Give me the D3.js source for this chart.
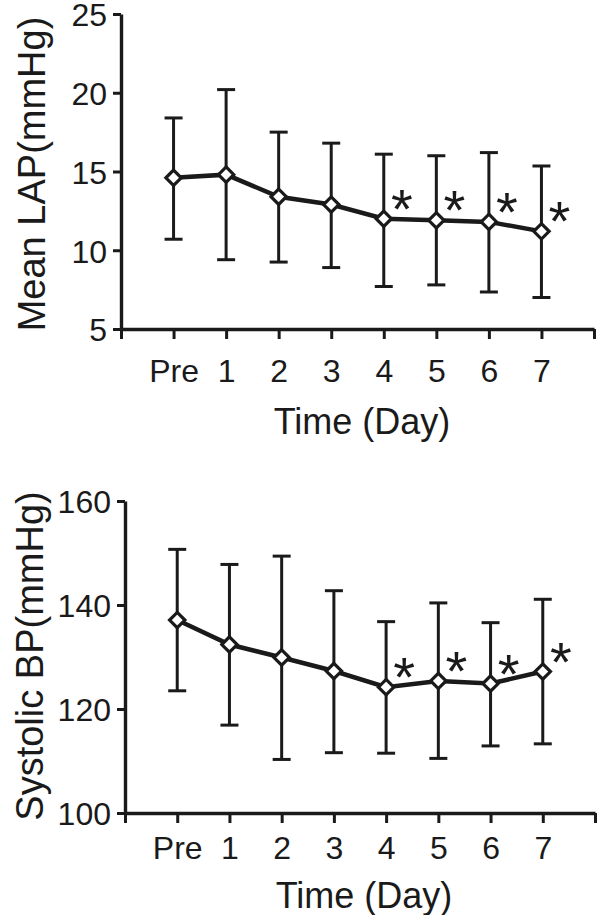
<!DOCTYPE html>
<html><head><meta charset="utf-8">
<script src="https://cdn.jsdelivr.net/npm/d3@7"></script>
<style>
body{margin:0;background:#fff;}
svg{display:block;}
text{font-family:Arial,"Liberation Sans",sans-serif;fill:#1a1a1a;}
</style></head>
<body>
<div id="chart"></div>
<script>
const categories = ["Pre","1","2","3","4","5","6","7"];
const lapMean  = [14.6,14.8,13.4,12.9,12.0,11.9,11.8,11.2];
const lapUpper = [18.4,20.2,17.5,16.8,16.1,16.0,16.2,15.35];
const lapLower = [10.7,9.4,9.25,8.9,7.7,7.8,7.35,7.0];
const lapSig   = [false,false,false,false,true,true,true,true];
const lapTicks = [5,10,15,20,25];

const bpMean  = [137.1,132.4,129.9,127.3,124.2,125.4,124.9,127.2];
const bpUpper = [150.7,147.8,149.4,142.75,136.8,140.4,136.6,141.1];
const bpLower = [123.5,116.9,110.3,111.6,111.5,110.5,112.9,113.3];
const bpSig   = [false,false,false,false,true,true,true,true];
const bpTicks = [100,120,140,160];

const W = 600, H = 915;
const ink = "#1a1a1a";
const svg = d3.select("#chart").append("svg").attr("width",W).attr("height",H);

function panel(cfg){
  const x = d3.scaleLinear().domain([-1,8]).range(cfg.xr);
  const y = d3.scaleLinear().domain(cfg.yd).range(cfg.yr);
  const g = svg.append("g");
  // x axis
  const xa = d3.axisBottom(x).tickValues(d3.range(-1,9)).tickSize(10).tickSizeOuter(0)
    .tickFormat(d => (d>=0 && d<categories.length) ? categories[d] : "");
  const gx = g.append("g").attr("transform",`translate(0,${cfg.yr[0]})`).call(xa);
  gx.select(".domain").attr("stroke",ink).attr("stroke-width",3.4);
  gx.selectAll(".tick line").attr("stroke",ink).attr("stroke-width",3);
  gx.selectAll(".tick text").attr("font-size",32).attr("y",cfg.tickLabelY).attr("dy",0)
    .attr("fill",ink).attr("font-family","Arial, 'Liberation Sans', sans-serif");
  // y axis
  const ya = d3.axisLeft(y).tickValues(cfg.ticks).tickSize(8).tickPadding(6).tickSizeOuter(0);
  const gy = g.append("g").attr("transform",`translate(${cfg.xr[0]},0)`).call(ya);
  gy.select(".domain").attr("stroke",ink).attr("stroke-width",3.4);
  gy.selectAll(".tick line").attr("stroke",ink).attr("stroke-width",3);
  gy.selectAll(".tick text").attr("font-size",32).attr("dy","0.37em").attr("fill",ink)
    .attr("font-family","Arial, 'Liberation Sans', sans-serif");
  // titles
  g.append("text").attr("x",cfg.titleX).attr("y",cfg.titleY).attr("text-anchor","middle")
    .attr("font-size",36).text("Time (Day)");
  g.append("text").attr("transform",`translate(${cfg.ylabX},${cfg.ylabY}) rotate(-90)`)
    .attr("text-anchor","middle").attr("font-size",38).text(cfg.ylab);
  const idx = d3.range(categories.length);
  // error bars
  const eb = g.append("g").attr("stroke",ink).attr("stroke-width",3).attr("fill","none");
  idx.forEach(i=>{
    eb.append("line").attr("x1",x(i)).attr("x2",x(i)).attr("y1",y(cfg.upper[i])).attr("y2",y(cfg.lower[i]));
    eb.append("line").attr("x1",x(i)-9).attr("x2",x(i)+9).attr("y1",y(cfg.upper[i])).attr("y2",y(cfg.upper[i]));
    eb.append("line").attr("x1",x(i)-9).attr("x2",x(i)+9).attr("y1",y(cfg.lower[i])).attr("y2",y(cfg.lower[i]));
  });
  // line
  g.append("path").datum(idx).attr("fill","none").attr("stroke",ink).attr("stroke-width",4.5)
    .attr("d",d3.line().x(i=>x(i)).y(i=>y(cfg.mean[i])));
  // markers
  const sym = d3.symbol().type(d3.symbolDiamond2).size(150);
  g.selectAll("path.mk").data(idx).join("path").attr("class","mk")
    .attr("transform",i=>`translate(${x(i)},${y(cfg.mean[i])})`)
    .attr("d",sym).attr("fill","#fff").attr("stroke",ink).attr("stroke-width",3.2);
  // asterisks
  g.selectAll("text.sig").data(idx.filter(i=>cfg.sig[i])).join("text").attr("class","sig")
    .attr("x",i=>x(i)+18).attr("y",i=>y(cfg.mean[i])+9)
    .attr("text-anchor","middle").attr("font-size",56)
    .attr("font-family","'Liberation Serif', 'Times New Roman', serif").text("*");
}

panel({xr:[121,594], yd:[5,25], yr:[329,14], ticks:lapTicks, mean:lapMean, upper:lapUpper, lower:lapLower, sig:lapSig,
  tickLabelY:53, titleX:362, titleY:434, ylab:"Mean LAP(mmHg)", ylabX:45, ylabY:174});
panel({xr:[125,595], yd:[100,160], yr:[813,501], ticks:bpTicks, mean:bpMean, upper:bpUpper, lower:bpLower, sig:bpSig,
  tickLabelY:46, titleX:364, titleY:908, ylab:"Systolic BP(mmHg)", ylabX:43, ylabY:656});
</script>
</body></html>
